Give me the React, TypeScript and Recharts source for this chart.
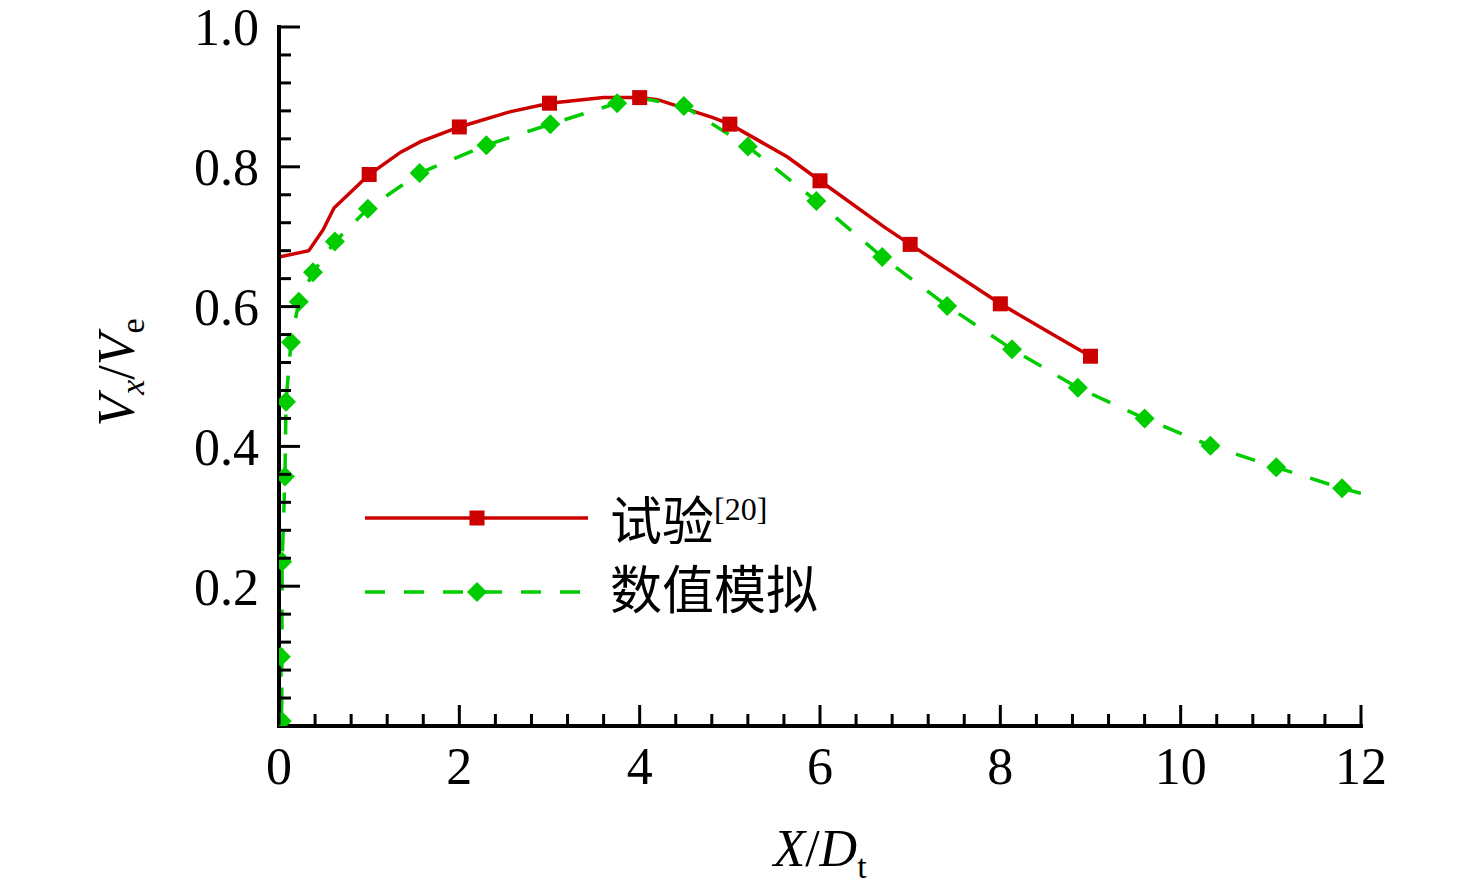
import { ComposedChart, Legend, Line, Scatter, XAxis, YAxis } from "recharts";

// Experiment (试验[20]): polyline vertices and the points carrying square symbols
const expLineX = [0, 0.33, 0.49, 0.61, 1.0, 1.35, 1.57, 2.0, 2.57, 3.0, 3.6, 4.0, 4.2, 4.82, 5.0, 5.64, 6.0, 6.71, 7.0, 8.0, 8.53, 9.0];
const expLineY = [0.671, 0.68, 0.71, 0.741, 0.789, 0.821, 0.836, 0.857, 0.879, 0.891, 0.899, 0.899, 0.896, 0.87, 0.861, 0.814, 0.78, 0.714, 0.689, 0.604, 0.564, 0.529];
const expMarkX = [1, 2, 3, 4, 5, 6, 7, 8, 9];
const expMarkY = [0.789, 0.857, 0.891, 0.899, 0.861, 0.78, 0.689, 0.604, 0.529];

// Simulation (数值模拟): symbols, plus the extra vertices of the dashed line
const simMarkX = [0.03, 0.02, 0.035, 0.066, 0.078, 0.133, 0.22, 0.377, 0.62, 0.986, 1.56, 2.3, 3.01, 3.75, 4.49, 5.2, 5.96, 6.69, 7.41, 8.13, 8.86, 9.6, 10.33, 11.06, 11.79];
const simMarkY = [0.007, 0.099, 0.235, 0.357, 0.464, 0.549, 0.607, 0.649, 0.693, 0.74, 0.791, 0.831, 0.861, 0.891, 0.887, 0.829, 0.751, 0.671, 0.601, 0.539, 0.484, 0.44, 0.401, 0.37, 0.34];
const simExtraX = [4.02, 12.0];
const simExtraY = [0.898, 0.333];

// axis ticks
const xTicks = [0, 2, 4, 6, 8, 10, 12];
const xMinorTicks = [0.4, 0.8, 1.2, 1.6, 2.4, 2.8, 3.2, 3.6, 4.4, 4.8, 5.2, 5.6, 6.4, 6.8, 7.2, 7.6, 8.4, 8.8, 9.2, 9.6, 10.4, 10.8, 11.2, 11.6];
const yTicks = [0.2, 0.4, 0.6, 0.8, 1.0];
const yMinorTicks = [0.04, 0.08, 0.12, 0.16, 0.24, 0.28, 0.32, 0.36, 0.44, 0.48, 0.52, 0.56, 0.64, 0.68, 0.72, 0.76, 0.84, 0.88, 0.92, 0.96];

const seriesNames = ["试验", "数值模拟"];
const expRef = "[20]";

const RED = "#cc0000";
const GREEN = "#00cc00";
const SERIF = "'Liberation Serif', 'Times New Roman', serif";
const CJK = "'Noto Sans CJK SC', sans-serif";

const zip = (xs: number[], ys: number[]) => xs.map((x, i) => ({ x, y: ys[i] }));

const expLine = zip(expLineX, expLineY);
const expMarks = zip(expMarkX, expMarkY);
const simLine = [...zip(simMarkX, simMarkY), ...zip(simExtraX, simExtraY)].sort((a, b) => a.x - b.x || a.y - b.y);
const simMarks = zip(simMarkX, simMarkY);

const axisStroke = { stroke: "#000", strokeWidth: 4, strokeLinecap: "square" as const };
const MAJOR = 20;
const MINOR = 12;

function Square(props: any) {
  const { cx, cy } = props;
  if (cx == null || cy == null) return null;
  return <rect x={cx - 7.5} y={cy - 7.5} width={15} height={15} fill={RED} />;
}

function Diamond(props: any) {
  const { cx, cy } = props;
  if (cx == null || cy == null) return null;
  const r = 10;
  return <polygon points={`${cx},${cy - r} ${cx + r},${cy} ${cx},${cy + r} ${cx - r},${cy}`} fill={GREEN} />;
}

// inward tick marks (plus label for the major ones)
function XTick(props: any) {
  const { x, y, payload, len, label } = props;
  return (
    <g>
      <line x1={x} x2={x} y1={y - 1} y2={y - 1 - len} stroke="#000" strokeWidth={3} />
      {label && (
        <text x={x} y={y + 21} dy="0.71em" textAnchor="middle" fontFamily={SERIF} fontSize={52} fill="#000">
          {payload.value}
        </text>
      )}
    </g>
  );
}

function YTick(props: any) {
  const { x, y, payload, len, label } = props;
  return (
    <g>
      <line x1={x + 1} x2={x + 1 + len} y1={y} y2={y} stroke="#000" strokeWidth={3} />
      {label && (
        <text x={x - 20} y={y} dy="0.355em" textAnchor="end" fontFamily={SERIF} fontSize={52} fill="#000">
          {Number(payload.value).toFixed(1)}
        </text>
      )}
    </g>
  );
}

function XLabel(props: any) {
  const vb = props.viewBox;
  return (
    <text x={vb.x + vb.width / 2} y={vb.y + 140} textAnchor="middle" fontFamily={SERIF} fontSize={52} fill="#000">
      <tspan fontStyle="italic">X</tspan>
      <tspan>/</tspan>
      <tspan fontStyle="italic">D</tspan>
      <tspan fontSize={34} dy={12}>t</tspan>
    </text>
  );
}

function YLabel(props: any) {
  const vb = props.viewBox;
  const x = vb.x + vb.width - 145;
  const y = vb.y + vb.height / 2 - 4;
  return (
    <text x={x} y={y} transform={`rotate(-90, ${x}, ${y})`} textAnchor="middle" fontFamily={SERIF} fontSize={52} fill="#000">
      <tspan fontStyle="italic">V</tspan>
      <tspan fontStyle="italic" fontSize={34} dy={10}>x</tspan>
      <tspan dy={-10}>/</tspan>
      <tspan fontStyle="italic">V</tspan>
      <tspan fontSize={34} dy={10}>e</tspan>
    </text>
  );
}

function LegendBox() {
  return (
    <svg width={480} height={150} style={{ display: "block" }}>
      <line x1={7} x2={230} y1={38} y2={38} stroke={RED} strokeWidth={3.5} />
      <Square cx={119} cy={38} />
      <text x={252} y={60} fontFamily={CJK} fontSize={52} fill="#000">
        {seriesNames[0]}
        <tspan fontFamily={SERIF} fontSize={32} dy={-20}>{expRef}</tspan>
      </text>
      <line x1={7} x2={230} y1={112} y2={112} stroke={GREEN} strokeWidth={3.5} strokeDasharray="20 19" />
      <Diamond cx={119} cy={112} />
      <text x={252} y={129} fontFamily={CJK} fontSize={52} fill="#000">
        {seriesNames[1]}
      </text>
    </svg>
  );
}

export default function App() {
  return (
    <div style={{ position: "absolute", left: 0, top: 0, background: "#fff" }}>
      <ComposedChart width={1476} height={896} margin={{ top: 27, right: 115, bottom: 168, left: 277 }}>
        <XAxis
          xAxisId="xMinor"
          type="number"
          dataKey="x"
          domain={[0, 12]}
          ticks={xMinorTicks}
          interval={0}
          height={1}
          tickSize={0}
          tickMargin={0}
          tickLine={false}
          axisLine={false}
          tick={<XTick len={MINOR} />}
          allowDataOverflow
        />
        <XAxis
          xAxisId="x"
          type="number"
          dataKey="x"
          domain={[0, 12]}
          ticks={xTicks}
          interval={0}
          height={1}
          tickSize={0}
          tickMargin={0}
          tickLine={false}
          axisLine={axisStroke}
          tick={<XTick len={MAJOR} label />}
          allowDataOverflow
          label={<XLabel />}
        />
        <YAxis
          yAxisId="yMinor"
          type="number"
          domain={[0, 1]}
          ticks={yMinorTicks}
          interval={0}
          width={1}
          tickSize={0}
          tickMargin={0}
          tickLine={false}
          axisLine={false}
          tick={<YTick len={MINOR} />}
          allowDataOverflow
        />
        <YAxis
          yAxisId="y"
          type="number"
          domain={[0, 1]}
          ticks={yTicks}
          interval={0}
          width={1}
          tickSize={0}
          tickMargin={0}
          tickLine={false}
          axisLine={axisStroke}
          tick={<YTick len={MAJOR} label />}
          allowDataOverflow
          label={<YLabel />}
        />

        <Line xAxisId="x" yAxisId="y" data={expLine} dataKey="y" type="linear" stroke={RED} strokeWidth={3.5} dot={false} activeDot={false} isAnimationActive={false} legendType="none" />
        <Scatter xAxisId="x" yAxisId="y" data={expMarks} dataKey="y" shape={<Square />} isAnimationActive={false} legendType="none" />
        <Line xAxisId="xMinor" yAxisId="yMinor" data={simLine} dataKey="y" type="linear" stroke={GREEN} strokeWidth={3.5} strokeDasharray="20 19" dot={false} activeDot={false} isAnimationActive={false} legendType="none" />
        <Scatter xAxisId="x" yAxisId="y" data={simMarks} dataKey="y" shape={<Diamond />} isAnimationActive={false} legendType="none" />

        <Legend
          layout="vertical"
          align="center"
          verticalAlign="middle"
          content={() => <LegendBox />}
          wrapperStyle={{ left: 358, top: 480, width: 480, height: 150 }}
        />
      </ComposedChart>
    </div>
  );
}
